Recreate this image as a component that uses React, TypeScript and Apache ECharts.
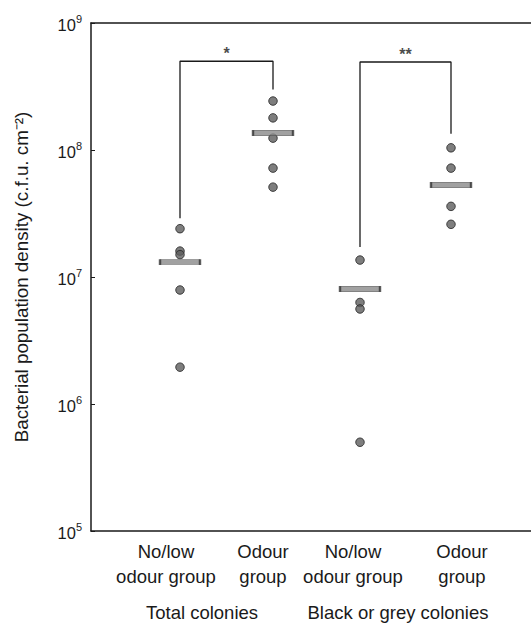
import React, { useEffect, useRef } from "react";
import * as echarts from "echarts";

// Group positions along the (hidden) numeric x scale
const groupX = [0.89, 1.82, 2.69, 3.6];
const tickLabelX = [0.75, 1.72, 2.62, 3.71];
const tickLabels = ["No/low\nodour group", "Odour\ngroup", "No/low\nodour group", "Odour\ngroup"];
const superX = [1.11, 3.07];
const superLabels = ["Total colonies", "Black or grey colonies"];

// Individual observations (c.f.u. cm^-2)
const totalLow = [2.4e7, 1.6e7, 1.5e7, 7.9e6, 1.95e6];
const totalOdour = [2.43e8, 1.79e8, 1.24e8, 7.2e7, 5.1e7];
const blackLow = [1.36e7, 6.3e6, 5.6e6, 5.0e5];
const blackOdour = [1.04e8, 7.2e7, 3.6e7, 2.6e7];
const groupValues = [totalLow, totalOdour, blackLow, blackOdour];

// Group means
const means = [1.31e7, 1.36e8, 8.05e6, 5.3e7];

// Significance brackets
const bracketFrom = [0, 2];
const bracketTo = [1, 3];
const bracketTop = [5.0e8, 4.93e8];
const bracketLeftEnd = [2.9e7, 1.72e7];
const bracketRightEnd = [3.0e8, 1.34e8];
const bracketStars = ["*", "**"];

const FONT = "'Liberation Sans', Arial, Helvetica, sans-serif";
const INK = "#1a1a1a";

export default function App() {
  const ref = useRef<HTMLDivElement>(null);
  useEffect(() => {
    if (!ref.current) return;
    const chart = echarts.init(ref.current, undefined, { renderer: "svg" });

    const dots: number[][] = [];
    groupValues.forEach((vals, i) => vals.forEach((v) => dots.push([groupX[i], v])));
    const meanData = means.map((m, i) => [groupX[i], m]);

    const bracketSeries = bracketFrom.map((f, k) => ({
      type: "line",
      xAxisIndex: 0,
      yAxisIndex: 0,
      symbol: "none",
      silent: true,
      lineStyle: { color: INK, width: 1.3 },
      data: [
        [groupX[f], bracketLeftEnd[k]],
        [groupX[f], bracketTop[k]],
        [groupX[bracketTo[k]], bracketTop[k]],
        [groupX[bracketTo[k]], bracketRightEnd[k]],
      ],
      z: 3,
    }));

    const starData = bracketFrom.map((f, k) => ({
      value: [(groupX[f] + groupX[bracketTo[k]]) / 2, bracketTop[k]],
      label: { formatter: bracketStars[k] },
    }));

    chart.setOption({
      animation: false,
      backgroundColor: "#ffffff",
      textStyle: { fontFamily: FONT },
      grid: { left: 91, right: 0, top: 23, bottom: 92, containLabel: false },
      xAxis: [
        {
          type: "value",
          min: 0,
          max: 4.4,
          position: "bottom",
          axisLine: { show: true, lineStyle: { color: INK, width: 1.5 } },
          axisTick: { show: false },
          splitLine: { show: false },
          axisLabel: {
            customValues: tickLabelX,
            formatter: (v: number) => {
              const i = tickLabelX.findIndex((p) => Math.abs(p - v) < 1e-6);
              return i >= 0 ? tickLabels[i] : "";
            },
            fontSize: 18.5,
            lineHeight: 25,
            margin: 8,
            color: INK,
            fontFamily: FONT,
            align: "center",
          },
        },
        {
          type: "value",
          min: 0,
          max: 4.4,
          position: "top",
          axisLine: { show: true, lineStyle: { color: INK, width: 1.5 } },
          axisTick: { show: false },
          axisLabel: { show: false },
          splitLine: { show: false },
        },
        {
          type: "value",
          min: 0,
          max: 4.4,
          position: "bottom",
          axisLine: { show: false },
          axisTick: { show: false },
          splitLine: { show: false },
          axisLabel: {
            customValues: superX,
            formatter: (v: number) => {
              const i = superX.findIndex((p) => Math.abs(p - v) < 1e-6);
              return i >= 0 ? superLabels[i] : "";
            },
            fontSize: 18.5,
            margin: 72,
            color: INK,
            fontFamily: FONT,
          },
        },
      ],
      yAxis: {
        type: "log",
        logBase: 10,
        min: 1e5,
        max: 1e9,
        name: "Bacterial population density (c.f.u. cm\u207B\u00B2)",
        nameLocation: "middle",
        nameGap: 60,
        nameTextStyle: { fontSize: 18.8, color: INK, fontFamily: FONT },
        axisLine: { show: true, lineStyle: { color: INK, width: 1.5 } },
        axisTick: { show: true, inside: true, length: 4, lineStyle: { color: INK } },
        splitLine: { show: false },
        axisLabel: {
          margin: 9,
          formatter: (v: number) => `{a|10}{b|${Math.round(Math.log10(v))}}`,
          rich: {
            a: { fontSize: 16.5, color: INK, fontFamily: FONT, lineHeight: 20, padding: [4, 0, 0, 0] },
            b: { fontSize: 11, color: INK, fontFamily: FONT, verticalAlign: "top", lineHeight: 11 },
          },
        },
      },
      series: [
        {
          type: "scatter",
          xAxisIndex: 0,
          symbol: "circle",
          symbolSize: 8.5,
          itemStyle: { color: "#5e5e5e", borderColor: "#222", borderWidth: 1 },
          data: dots,
          z: 4,
        },
        {
          type: "scatter",
          xAxisIndex: 0,
          symbol: "rect",
          symbolSize: [40, 5.5],
          itemStyle: { color: "#8a8a8a", borderColor: "#333", borderWidth: 0.9 },
          data: meanData,
          z: 5,
        },
        ...bracketSeries,
        {
          type: "scatter",
          xAxisIndex: 0,
          symbolSize: 0,
          silent: true,
          data: starData,
          label: {
            show: true,
            position: "top",
            distance: 0,
            fontSize: 16,
            fontWeight: "bold",
            color: INK,
            fontFamily: FONT,
          },
          z: 6,
        },
      ],
    });
    return () => chart.dispose();
  }, []);
  return (
    <div
      ref={ref}
      style={{ position: "absolute", left: 0, top: 0, width: 531, height: 623, background: "#fff" }}
    />
  );
}
